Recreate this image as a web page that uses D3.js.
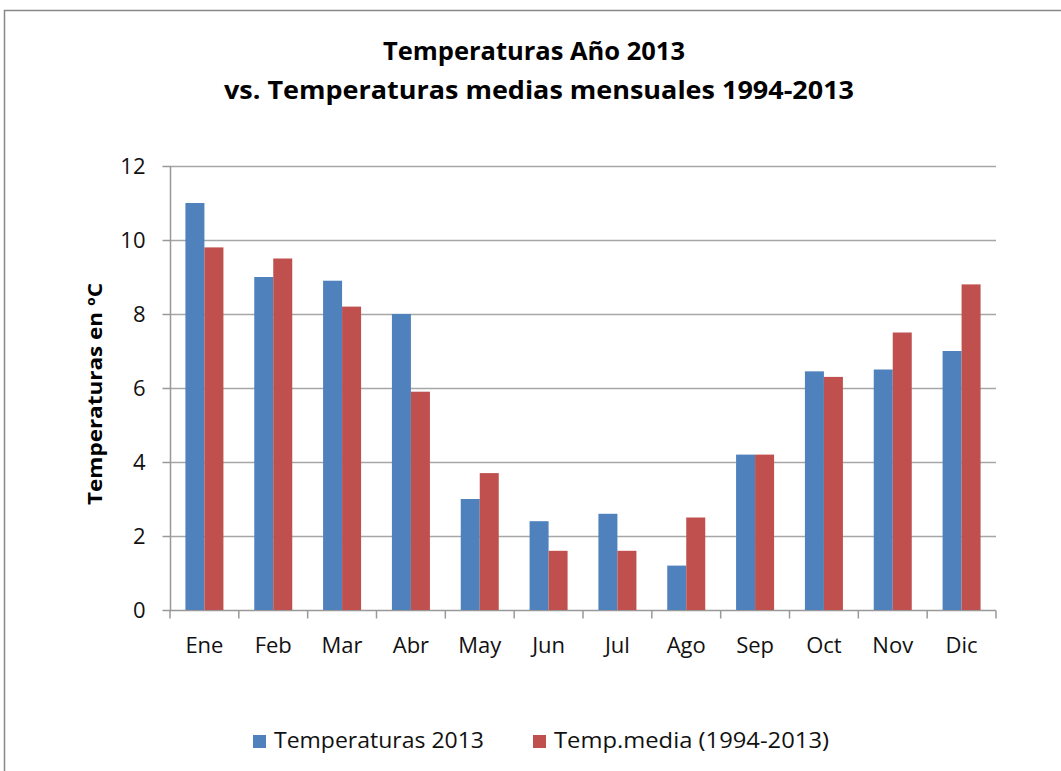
<!DOCTYPE html>
<html>
<head>
<meta charset="utf-8">
<script src="https://cdn.jsdelivr.net/npm/d3@7"></script>
<style>
  body { margin: 0; background: #fff; }
  text { font-family: "Open Sans", "Noto Sans", sans-serif; fill: #000; }
</style>
</head>
<body>
<svg id="chart" width="1061" height="771"></svg>
<script>
// data
var months = ["Ene", "Feb", "Mar", "Abr", "May", "Jun", "Jul", "Ago", "Sep", "Oct", "Nov", "Dic"];
var temp2013 = [11.0, 9.0, 8.9, 8.0, 3.0, 2.4, 2.6, 1.2, 4.2, 6.45, 6.5, 7.0];
var tempMedia = [9.8, 9.5, 8.2, 5.9, 3.7, 1.6, 1.6, 2.5, 4.2, 6.3, 7.5, 8.8];
var seriesNames = ["Temperaturas 2013", "Temp.media (1994-2013)"];
var yTicks = [0, 2, 4, 6, 8, 10, 12];

var colors = ["#4F81BD", "#C0504D"];

var svg = d3.select("#chart");

// outer frame
svg.append("rect")
    .attr("x", 4.5).attr("y", 10.5)
    .attr("width", 1070).attr("height", 800)
    .style("fill", "none")
    .style("stroke", "#888")
    .style("stroke-width", 1.5);

var margin = {top: 166, left: 170, right: 996, bottom: 610};

var x = d3.scaleBand()
    .domain(months)
    .range([margin.left, margin.right]);

var xInner = d3.scaleBand()
    .domain([0, 1])
    .range([0, 38]);

var y = d3.scaleLinear()
    .domain([0, 12])
    .range([margin.bottom, margin.top]);

// gridlines
svg.append("g")
    .selectAll("line")
    .data(yTicks.filter(function(d){ return d > 0; }))
    .enter().append("line")
    .attr("x1", margin.left).attr("x2", margin.right)
    .attr("y1", function(d){ return Math.round(y(d)) + 0.5; })
    .attr("y2", function(d){ return Math.round(y(d)) + 0.5; })
    .style("stroke", "#a6a6a6")
    .style("stroke-width", 1.5);

// y axis
var yAxis = svg.append("g")
    .attr("transform", "translate(" + (margin.left + 0.5) + ",0)")
    .call(d3.axisLeft(y).tickValues(yTicks).tickSize(8).tickPadding(17));
yAxis.selectAll("text").style("font-size", "22px").style("fill", "#111");
yAxis.selectAll("line, path").style("stroke", "#999").style("stroke-width", 1.5);
yAxis.select(".domain").attr("d", "M0," + margin.bottom + "V" + margin.top);

// x axis
var xAxisG = svg.append("g")
    .attr("transform", "translate(0," + (margin.bottom + 0.5) + ")");
xAxisG.append("line")
    .attr("x1", margin.left).attr("x2", margin.right)
    .style("stroke", "#999").style("stroke-width", 1.5);
var bounds = months.map(function(m){ return x(m); }).concat([margin.right]);
xAxisG.selectAll(".tick")
    .data(bounds)
    .enter().append("line")
    .attr("x1", function(d){ return d; }).attr("x2", function(d){ return d; })
    .attr("y1", 0).attr("y2", 8)
    .style("stroke", "#999").style("stroke-width", 1.5);
xAxisG.selectAll("text")
    .data(months)
    .enter().append("text")
    .attr("x", function(d){ return x(d) + x.bandwidth() / 2; })
    .attr("y", 42)
    .attr("text-anchor", "middle")
    .style("font-size", "22px")
    .style("fill", "#111")
    .text(function(d){ return d; });

// bars
var series = [temp2013, tempMedia];
series.forEach(function(vals, s){
    svg.append("g")
        .selectAll("rect")
        .data(vals)
        .enter().append("rect")
        .attr("x", function(d, i){ return x(months[i]) + x.bandwidth() / 2 - 19 + xInner(s); })
        .attr("width", xInner.bandwidth())
        .attr("y", function(d){ return y(d); })
        .attr("height", function(d){ return margin.bottom - y(d); })
        .style("fill", colors[s]);
});

// title
var title = svg.append("text")
    .attr("text-anchor", "middle")
    .style("font-size", "25px")
    .style("font-weight", "bold");
title.append("tspan").attr("x", 534).attr("y", 60)
    .attr("textLength", 302).attr("lengthAdjust", "spacingAndGlyphs")
    .text("Temperaturas Año 2013");
title.append("tspan").attr("x", 539).attr("y", 99)
    .attr("textLength", 630).attr("lengthAdjust", "spacingAndGlyphs")
    .text("vs. Temperaturas medias mensuales 1994-2013");

// y axis title
svg.append("text")
    .attr("transform", "translate(102,394) rotate(-90)")
    .attr("text-anchor", "middle")
    .attr("textLength", 222).attr("lengthAdjust", "spacingAndGlyphs")
    .style("font-size", "20px")
    .style("font-weight", "bold")
    .text("Temperaturas en ºC");

// legend
var legendX = [253, 533];
var legendW = [210, 275];
seriesNames.forEach(function(name, s){
    svg.append("rect")
        .attr("x", legendX[s]).attr("y", 735)
        .attr("width", 13).attr("height", 13)
        .style("fill", colors[s]);
    svg.append("text")
        .attr("x", legendX[s] + 21).attr("y", 748)
        .attr("textLength", legendW[s]).attr("lengthAdjust", "spacingAndGlyphs")
        .style("font-size", "21px")
        .style("fill", "#111")
        .text(name);
});
</script>
</body>
</html>
